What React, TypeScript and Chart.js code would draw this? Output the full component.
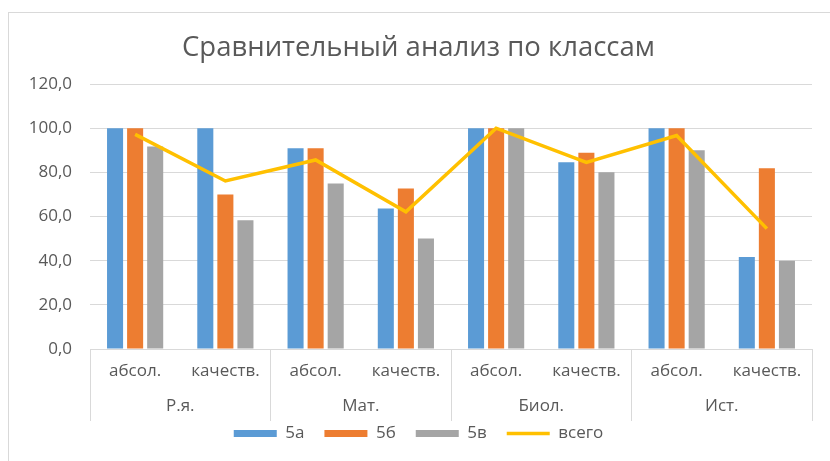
import React, { useEffect, useRef } from "react";
import { Chart, registerables } from "chart.js";

Chart.register(...registerables);

const categories = ["абсол.", "качеств.", "абсол.", "качеств.", "абсол.", "качеств.", "абсол.", "качеств."];
const groups = ["Р.я.", "Мат.", "Биол.", "Ист."];
const class5a = [100, 100, 90.9, 63.6, 100, 84.6, 100, 41.7];
const class5b = [100, 70, 90.9, 72.7, 100, 88.9, 100, 81.8];
const class5v = [91.7, 58.3, 75, 50, 100, 80, 90, 40];
const total = [97.2, 76.1, 85.6, 62.1, 100, 84.5, 96.7, 54.5];
const yTicks = [0, 20, 40, 60, 80, 100, 120];

const FONT = "'Open Sans', 'Liberation Sans', sans-serif";
const TEXT = "#595959";
const GRID = "#d9d9d9";

export default function App() {
  const ref = useRef<HTMLCanvasElement | null>(null);

  useEffect(() => {
    if (!ref.current) return;
    const chart = new Chart(ref.current, {
      type: "bar",
      data: {
        labels: categories,
        datasets: [
          { label: "5а", data: class5a, backgroundColor: "#5b9bd5", borderWidth: 0, order: 1, categoryPercentage: 0.667, barPercentage: 0.8 },
          { label: "5б", data: class5b, backgroundColor: "#ed7d31", borderWidth: 0, order: 1, categoryPercentage: 0.667, barPercentage: 0.8 },
          { label: "5в", data: class5v, backgroundColor: "#a5a5a5", borderWidth: 0, order: 1, categoryPercentage: 0.667, barPercentage: 0.8 },
          {
            type: "line",
            label: "всего",
            data: total,
            borderColor: "#ffc000",
            backgroundColor: "#ffc000",
            borderWidth: 3.5,
            pointRadius: 0,
            tension: 0,
            order: 0,
          } as any,
        ],
      },
      options: {
        responsive: false,
        animation: false,
        layout: { padding: { left: 25, right: 18, top: 20, bottom: 9 } },
        scales: {
          y: {
            min: 0,
            max: 120,
            afterBuildTicks: (s: any) => {
              s.ticks = yTicks.map((v) => ({ value: v }));
            },
            afterFit: (s: any) => {
              s.width = 65;
            },
            ticks: {
              padding: 18,
              color: TEXT,
              font: { family: FONT, size: 17 },
              callback: (v: any) => Number(v).toFixed(1).replace(".", ","),
            },
            grid: { color: GRID, drawTicks: false, lineWidth: 1 },
            border: { display: false },
          },
          x: {
            offset: true,
            weight: 0,
            afterFit: (s: any) => {
              s.height = 36;
            },
            ticks: {
              padding: -60,
              color: TEXT,
              maxRotation: 0,
              autoSkip: false,
              font: { family: FONT, size: 17 },
            },
            grid: {
              offset: true,
              drawOnChartArea: false,
              drawTicks: true,
              tickLength: 72,
              color: (ctx: any) => (ctx.index === undefined || ctx.index % 2 === 0 ? GRID : "rgba(0,0,0,0)"),
            },
            border: { display: true, color: GRID },
          },
          x2: {
            type: "category",
            position: "bottom",
            labels: groups,
            offset: true,
            weight: 1,
            afterFit: (s: any) => {
              s.height = 20;
            },
            ticks: {
              mirror: true,
              padding: -31,
              color: TEXT,
              maxRotation: 0,
              autoSkip: false,
              font: { family: FONT, size: 17 },
            },
            grid: { display: false, drawTicks: false },
            border: { display: false },
          },
        },
        plugins: {
          title: {
            display: true,
            text: "Сравнительный анализ по классам",
            color: TEXT,
            font: { family: FONT, size: 27.5, weight: "normal" },
            padding: { top: 12, bottom: 19 },
          },
          legend: {
            display: true,
            position: "bottom",
            labels: {
              color: TEXT,
              font: { family: FONT, size: 17 },
              usePointStyle: true,
              pointStyleWidth: 43,
              boxHeight: 7,
              padding: 20,
              sort: (a: any, b: any) => a.datasetIndex - b.datasetIndex,
              generateLabels: (c: any) => {
                const items = (Chart.defaults.plugins.legend.labels as any).generateLabels(c);
                items.forEach((it: any) => {
                  it.pointStyle = it.datasetIndex === 3 ? "line" : "rect";
                });
                return items;
              },
            },
          },
          tooltip: { enabled: false },
        },
      },
    } as any);
    return () => chart.destroy();
  }, []);

  return (
    <div style={{ position: "fixed", left: 0, top: 0, width: 830, height: 461, background: "#fff", overflow: "hidden" }}>
      <div
        style={{
          position: "absolute",
          left: 8,
          top: 12,
          width: 900,
          height: 600,
          border: "1px solid #d9d9d9",
        }}
      />
      <canvas ref={ref} width={830} height={461} style={{ position: "absolute", left: 0, top: 0, width: 830, height: 461 }} />
    </div>
  );
}
